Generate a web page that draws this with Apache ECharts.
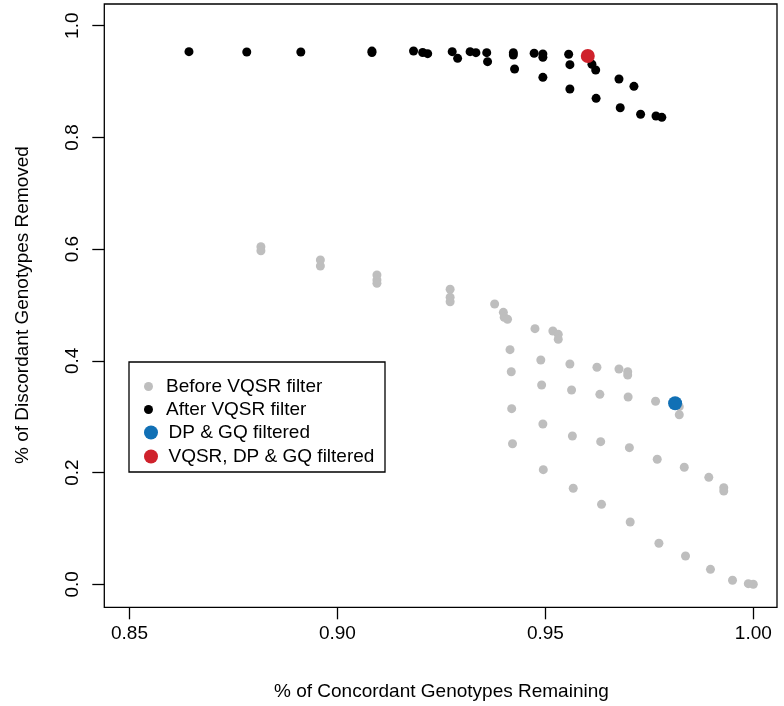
<!DOCTYPE html>
<html>
<head>
<meta charset="utf-8">
<script src="https://cdn.jsdelivr.net/npm/echarts@6/dist/echarts.min.js"></script>
<style>
  html, body { margin: 0; padding: 0; background: #fff; }
  #chart { width: 784px; height: 706px; }
</style>
</head>
<body>
<div id="chart"></div>
<script>
// 数据
var xTicks = [0.85, 0.90, 0.95, 1.00]
var yTicks = [0.0, 0.2, 0.4, 0.6, 0.8, 1.0]

// Before VQSR filter (grey)
var beforeX = [0.8816, 0.8816, 0.8959, 0.8959, 0.9095, 0.9095, 0.9095, 0.9271, 0.9271, 0.9271,
    0.9378, 0.9399, 0.9401, 0.9409, 0.9475, 0.9518, 0.9531, 0.9531, 0.9415, 0.9489,
    0.9559, 0.9624, 0.9677, 0.9698, 0.9698, 0.9418, 0.9491, 0.9563, 0.9631, 0.9699,
    0.9765, 0.9822, 0.9822, 0.9419, 0.9494, 0.9565, 0.9633, 0.9702, 0.9769, 0.9834,
    0.9893, 0.9929, 0.9929, 0.9421, 0.9495, 0.9567, 0.9635, 0.9704, 0.9773, 0.9837,
    0.9897, 0.9950, 0.9988, 1.0000]
var beforeY = [0.6044, 0.5972, 0.5806, 0.5698, 0.5537, 0.5448, 0.5388, 0.5281, 0.5138, 0.5059,
    0.5018, 0.4869, 0.4780, 0.4744, 0.4576, 0.4535, 0.4475, 0.4386, 0.4200, 0.4015,
    0.3944, 0.3885, 0.3854, 0.3806, 0.3747, 0.3806, 0.3568, 0.3478, 0.3401, 0.3353,
    0.3276, 0.3180, 0.3036, 0.3144, 0.2870, 0.2655, 0.2553, 0.2446, 0.2238, 0.2095,
    0.1915, 0.1729, 0.1670, 0.2517, 0.2052, 0.1719, 0.1432, 0.1115, 0.0734, 0.0507,
    0.0268, 0.0072, 0.0011, 0.0000]

// After VQSR filter (black)
var afterX = [0.8643, 0.8782, 0.8912, 0.9083, 0.9083, 0.9183, 0.9205, 0.9217, 0.9276, 0.9289,
    0.9319, 0.9333, 0.9359, 0.9361, 0.9423, 0.9423, 0.9426, 0.9473, 0.9494, 0.9494,
    0.9494, 0.9556, 0.9559, 0.9559, 0.9602, 0.9612, 0.9621, 0.9622, 0.9677, 0.9680,
    0.9713, 0.9729, 0.9766, 0.9780]
var afterY = [0.9535, 0.9530, 0.9530, 0.9520, 0.9545, 0.9547, 0.9520, 0.9500, 0.9535, 0.9416,
    0.9535, 0.9517, 0.9517, 0.9356, 0.9517, 0.9476, 0.9225, 0.9506, 0.9494, 0.9434,
    0.9076, 0.9488, 0.9302, 0.8867, 0.9457, 0.9309, 0.9207, 0.8700, 0.9046, 0.8532,
    0.8915, 0.8414, 0.8383, 0.8360]

var dpgqX = [0.9812]
var dpgqY = [0.3240]
var allX = [0.9602]
var allY = [0.9457]

var names = ['Before VQSR filter', 'After VQSR filter', 'DP & GQ filtered', 'VQSR, DP & GQ filtered']
var colors = ['#bebebe', '#000000', '#1170b5', '#cf222c']

function pairs(xs, ys) {
    return xs.map((x, i) => [x, ys[i]])
}

var font = '"Liberation Sans", Arial, Helvetica, sans-serif'

function legendAt(i, top, size) {
    return {
        data: [names[i]],
        left: 144,
        top: top,
        icon: 'circle',
        itemWidth: 25,
        itemHeight: size,
        padding: 0,
        selectedMode: false,
        itemStyle: { opacity: 1 },
        textStyle: { fontFamily: font, fontSize: 19, color: '#000', padding: [0, 0, 0, 0] }
    }
}

// grid spans exactly 0.85..1.00 and 0..1, the R-style box is drawn around it
var option = {
    animation: false,
    backgroundColor: '#fff',
    grid: {
        left: 129.5,
        top: 25.7,
        right: 30.7,
        bottom: 121.7,
        show: false,
        containLabel: false,
        outerBoundsMode: 'none'
    },
    legend: [
        legendAt(0, 377, 9),
        legendAt(1, 400, 9),
        legendAt(2, 423, 14),
        legendAt(3, 447, 14)
    ],
    graphic: [
        {
            type: 'rect',
            shape: { x: 104.3, y: 4, width: 672.7, height: 603.3 },
            style: { fill: 'transparent', stroke: '#000', lineWidth: 1.3 },
            z: 100
        },
        {
            type: 'rect',
            shape: { x: 129, y: 362, width: 256, height: 110 },
            style: { fill: 'transparent', stroke: '#000', lineWidth: 1.3 },
            z: 100
        }
    ],
    xAxis: {
        type: 'value',
        min: xTicks[0],
        max: xTicks[xTicks.length - 1],
        interval: 0.05,
        offset: 23,
        name: '% of Concordant Genotypes Remaining',
        nameLocation: 'middle',
        nameGap: 75,
        nameTextStyle: { fontFamily: font, fontSize: 19, color: '#000' },
        splitLine: { show: false },
        axisLine: { show: false, onZero: false },
        axisTick: {
            show: true,
            inside: false,
            length: 12,
            lineStyle: { color: '#000', width: 1.3 }
        },
        axisLabel: {
            margin: 17,
            fontFamily: font,
            fontSize: 19,
            color: '#000',
            showMinLabel: true,
            showMaxLabel: true,
            formatter: v => v.toFixed(2)
        }
    },
    yAxis: {
        type: 'value',
        min: yTicks[0],
        max: yTicks[yTicks.length - 1],
        interval: 0.2,
        offset: 25.2,
        name: '% of Discordant Genotypes Removed',
        nameLocation: 'middle',
        nameGap: 72,
        nameRotate: 90,
        nameTextStyle: { fontFamily: font, fontSize: 19, color: '#000' },
        splitLine: { show: false },
        axisLine: { show: false, onZero: false },
        axisTick: {
            show: true,
            inside: false,
            length: 12,
            lineStyle: { color: '#000', width: 1.3 }
        },
        axisLabel: {
            rotate: 90,
            margin: 22,
            fontFamily: font,
            fontSize: 19,
            color: '#000',
            showMinLabel: true,
            showMaxLabel: true,
            formatter: v => v.toFixed(1)
        }
    },
    series: [
        {
            name: names[0],
            type: 'scatter',
            symbol: 'circle',
            symbolSize: 9,
            clip: false,
            itemStyle: { color: colors[0], opacity: 1 },
            data: pairs(beforeX, beforeY)
        },
        {
            name: names[1],
            type: 'scatter',
            symbol: 'circle',
            symbolSize: 9,
            clip: false,
            itemStyle: { color: colors[1], opacity: 1 },
            data: pairs(afterX, afterY)
        },
        {
            name: names[2],
            type: 'scatter',
            symbol: 'circle',
            symbolSize: 14,
            clip: false,
            itemStyle: { color: colors[2], opacity: 1 },
            data: pairs(dpgqX, dpgqY)
        },
        {
            name: names[3],
            type: 'scatter',
            symbol: 'circle',
            symbolSize: 14,
            clip: false,
            itemStyle: { color: colors[3], opacity: 1 },
            data: pairs(allX, allY)
        }
    ]
}

var chart = echarts.init(document.getElementById('chart'))
chart.setOption(option)
</script>
</body>
</html>
